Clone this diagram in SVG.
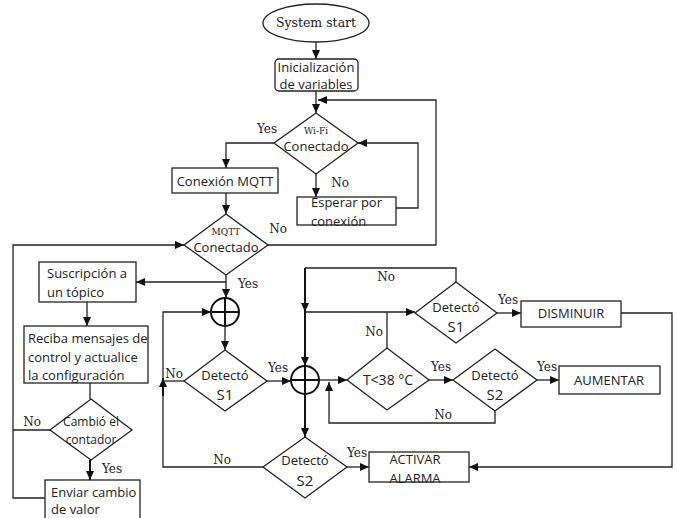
<svg xmlns="http://www.w3.org/2000/svg" width="677" height="518" viewBox="0 0 677 518">
<defs>
<marker id="arr" markerUnits="userSpaceOnUse" markerWidth="9" markerHeight="8" refX="9" refY="4" viewBox="0 0 9 8" orient="auto">
<path d="M0,0 L9,4 L0,8 z" fill="#111"/>
</marker>
</defs>
<style>
.s{fill:#fff;stroke:#222;stroke-width:1.3}
.c{fill:none;stroke:#222;stroke-width:1.3}
.k{fill:none;stroke:#111;stroke-width:2}
.a{marker-end:url(#arr)}
.t{font-family:"Open Sans","Noto Sans",sans-serif;font-size:13px;fill:#222;text-anchor:middle}
.l{text-anchor:start}
.r{font-family:"DejaVu Serif","Liberation Serif",serif;font-size:12px;fill:#222;text-anchor:middle}
.sm{font-size:9px}
.big{font-size:15px}
</style>
<rect width="677" height="518" fill="#fff"/>
<g id="connectors">
<path class="c a" d="M316,42 V59"/>
<path class="c a" d="M316,91 V113"/>
<path class="c a" d="M267,245 H436 V100 H318"/>
<path class="c a" d="M274,143 H226 V168"/>
<path class="c a" d="M316,174 V197"/>
<path class="c a" d="M396,208 H418 V143 H358"/>
<path class="c a" d="M226,193 V214"/>
<path class="c a" d="M45,498 H13 V245 H184"/>
<path class="c" d="M50,430 H13"/>
<path class="c a" d="M226,275 V282 H136"/>
<path class="c a" d="M226,282 V298"/>
<path class="c a" d="M87,302 V326"/>
<path class="c" d="M90,383 V399"/>
<path class="k a" d="M90,460 V480"/>
<path class="c a" d="M225,326 V350"/>
<path class="c a" d="M263,467 H163 V312 H211"/>
<path class="k a" d="M163,396 V378"/>
<path class="c" d="M184,381 H163"/>
<path class="c a" d="M267,381 H291"/>
<path class="c" d="M456,282 V268 H305"/>
<path class="k a" d="M305,268 V312"/>
<path class="k a" d="M305,312 V366"/>
<path class="k a" d="M305,394 V437"/>
<path class="c a" d="M305,312 H415"/>
<path class="c" d="M387,348 V312"/>
<path class="c a" d="M319,380 H347"/>
<path class="c a" d="M429,380 H453"/>
<path class="c a" d="M495,410 V423 H329 V382"/>
<path class="c a" d="M497,313 H521"/>
<path class="c a" d="M537,380 H559"/>
<path class="c a" d="M621,313 H672 V467 H469"/>
<path class="c a" d="M347,467 H369"/>
</g>
<g id="start"><ellipse class="s" cx="316" cy="23" rx="53" ry="19"/><text class="r" x="316" y="27" style="font-size:12.5px">System start</text></g>
<g id="init"><rect class="s" x="275" y="59" width="83" height="32" rx="4"/><text class="t" x="316" y="72">Inicialización</text><text class="t" x="316" y="89">de variables</text></g>
<g id="wifi"><polygon class="s" points="316,113 358,143 316,174 274,143"/><text class="r sm" x="316" y="134">Wi-Fi</text><text class="t" x="316" y="151">Conectado</text><text class="r" x="267" y="133">Yes</text><text class="r" x="340" y="187">No</text></g>
<g id="mqttconn"><rect class="s" x="172" y="168" width="106" height="25"/><text class="t" x="225" y="186">Conexión MQTT</text></g>
<g id="esperar"><rect class="s" x="297" y="197" width="99" height="28"/><text class="t l" x="311" y="207">Esperar por</text><text class="t l" x="311" y="226">conexión</text></g>
<g id="mqtt"><polygon class="s" points="226,214 268,245 226,275 184,245"/><text class="r sm" x="226" y="235">MQTT</text><text class="t" x="226" y="252">Conectado</text><text class="r" x="278" y="233">No</text><text class="r" x="248" y="288">Yes</text></g>
<g id="suscripcion"><rect class="s" x="39" y="262" width="97" height="40"/><text class="t l" x="47" y="278">Suscripción a</text><text class="t l" x="47" y="297">un tópico</text></g>
<g id="reciba"><rect class="s" x="24" y="326" width="124" height="57"/><text class="t l" x="28" y="343">Reciba mensajes de</text><text class="t l" x="28" y="362">control y actualice</text><text class="t l" x="28" y="380">la configuración</text></g>
<g id="cambio"><polygon class="s" points="91,399 132,430 91,460 50,430"/><text class="t" x="91" y="426" style="font-size:12px">Cambió el</text><text class="t" x="91" y="444" style="font-size:12px">contador</text><text class="r" x="32" y="426">No</text><text class="r" x="112" y="473">Yes</text></g>
<g id="enviar"><rect class="s" x="45" y="480" width="95" height="45"/><text class="t l" x="51" y="497">Enviar cambio</text><text class="t l" x="51" y="514">de valor</text></g>
<g id="sum1"><circle class="k" cx="225" cy="312" r="14"/><path class="k" d="M211,312 H239 M225,298 V326"/></g>
<g id="s1a"><polygon class="s" points="225,350 267,381 225,411 184,381"/><text class="t" x="225" y="380">Detectó</text><text class="t big" x="225" y="400">S1</text><text class="r" x="174" y="378">No</text><text class="r" x="278" y="372">Yes</text></g>
<g id="sum2"><circle class="k" cx="305" cy="380" r="14"/><path class="k" d="M291,380 H319 M305,366 V394"/></g>
<g id="s1b"><polygon class="s" points="456,282 497,313 456,343 415,313"/><text class="t" x="456" y="312">Detectó</text><text class="t big" x="456" y="332">S1</text><text class="r" x="386" y="281">No</text><text class="r" x="508" y="304">Yes</text></g>
<g id="temp"><polygon class="s" points="387,348 429,380 387,410 347,380"/><text class="t" x="388" y="385" style="font-size:14px">T&lt;38 °C</text><text class="r" x="374" y="336">No</text><text class="r" x="441" y="371">Yes</text></g>
<g id="s2a"><polygon class="s" points="495,349 537,380 495,411 453,380"/><text class="t" x="495" y="380">Detectó</text><text class="t big" x="495" y="400">S2</text><text class="r" x="547" y="371">Yes</text><text class="r" x="443" y="419">No</text></g>
<g id="disminuir"><rect class="s" x="521" y="301" width="100" height="26"/><text class="t" x="571" y="318">DISMINUIR</text></g>
<g id="aumentar"><rect class="s" x="559" y="366" width="101" height="28"/><text class="t" x="609" y="385">AUMENTAR</text></g>
<g id="s2b"><polygon class="s" points="305,437 347,467 305,498 263,467"/><text class="t" x="305" y="465">Detectó</text><text class="t big" x="305" y="486">S2</text><text class="r" x="222" y="464">No</text><text class="r" x="357" y="457">Yes</text></g>
<g id="alarma"><rect class="s" x="369" y="452" width="100" height="30"/><text class="t" x="415" y="464">ACTIVAR</text><text class="t" x="415" y="483">ALARMA</text></g>
</svg>
